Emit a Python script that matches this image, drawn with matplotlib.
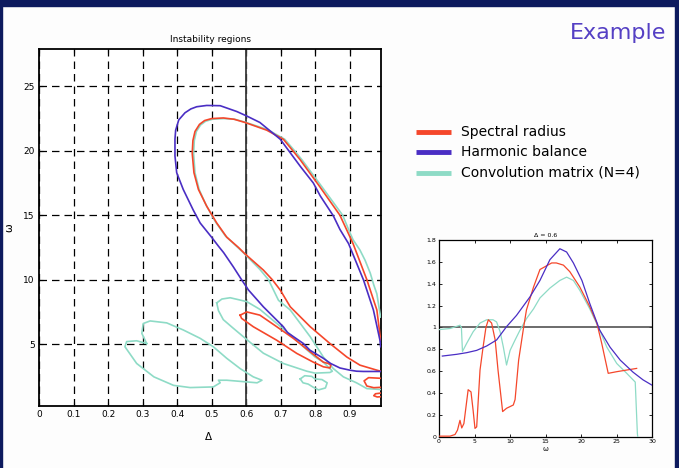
import matplotlib
matplotlib.use("Agg")
import matplotlib.pyplot as plt
from matplotlib.patches import Rectangle
from matplotlib.lines import Line2D

# ---------------- data: main panel contour curves (Delta, omega) ----------------
red_big_x = [0.99, 0.979, 0.93, 0.892, 0.843, 0.786, 0.728, 0.699, 0.676, 0.65, 0.597, 0.578, 0.544, 0.515,
             0.486, 0.462, 0.449, 0.444, 0.446, 0.452, 0.465, 0.48, 0.50, 0.534, 0.565, 0.597, 0.66,
             0.708, 0.737, 0.757, 0.814, 0.872, 0.91, 0.95, 0.979, 0.99]
red_big_y = [2.9, 2.98, 3.37, 4.0, 5.05, 6.35, 7.9, 9.2, 10.0, 10.75, 12.0, 12.5, 13.3, 14.4,
             15.7, 17.0, 18.3, 19.8, 20.8, 21.5, 22.05, 22.35, 22.5, 22.55, 22.45, 22.2, 21.6,
             20.9, 19.96, 19.3, 17.2, 15.0, 12.8, 10.0, 7.65, 5.3]

cyan_big_x = [0.99, 0.95, 0.92, 0.882, 0.853, 0.824, 0.786, 0.728, 0.694, 0.665, 0.64, 0.592, 0.572, 0.54,
              0.511, 0.484, 0.464, 0.452, 0.448, 0.45, 0.456, 0.468, 0.483, 0.503, 0.535, 0.567, 0.6,
              0.662, 0.712, 0.742, 0.762, 0.82, 0.88, 0.897, 0.91, 0.93, 0.945, 0.96, 0.97, 0.979,
              0.985, 0.99]
cyan_big_y = [1.48, 1.55, 2.0, 2.46, 3.1, 4.0, 5.57, 7.65, 8.4, 10.0, 10.8, 12.1, 12.6, 13.4,
              14.5, 15.8, 17.0, 18.3, 19.8, 20.8, 21.5, 22.0, 22.3, 22.45, 22.5, 22.45, 22.2,
              21.65, 20.9, 19.96, 19.3, 17.2, 15.0, 13.9, 13.1, 12.3, 11.5, 10.5, 9.6, 8.9,
              7.9, 7.1]

blue_big_x = [0.99, 0.94, 0.92, 0.901, 0.872, 0.845, 0.824, 0.785, 0.766, 0.72, 0.708, 0.65, 0.607, 0.587,
              0.563, 0.535, 0.52, 0.50, 0.467, 0.447, 0.418, 0.399, 0.394, 0.394, 0.396, 0.405, 0.423,
              0.44, 0.457, 0.486, 0.525, 0.573, 0.602, 0.64, 0.699, 0.757, 0.795, 0.815, 0.853, 0.872,
              0.897, 0.94, 0.969, 0.988, 0.99]
blue_big_y = [2.88, 2.88, 2.9, 2.98, 3.15, 3.5, 3.9, 4.53, 5.05, 5.9, 6.35, 7.9, 9.2, 10.0,
              11.0, 12.1, 12.6, 13.3, 14.4, 15.4, 17.0, 18.3, 19.6, 20.9, 21.6, 22.4, 22.95,
              23.25, 23.42, 23.52, 23.5, 23.05, 22.7, 22.2, 20.9, 18.8, 17.5, 16.5, 14.95, 13.9,
              12.8, 10.0, 7.65, 5.3, 4.8]

red_small_x = [0.583, 0.602, 0.64, 0.689, 0.737, 0.786, 0.824, 0.838, 0.846, 0.843, 0.824, 0.795, 0.747,
               0.689, 0.621, 0.587, 0.583]
red_small_y = [7.25, 7.5, 7.25, 6.35, 5.45, 4.4, 3.6, 3.5, 3.4, 3.15, 3.24, 3.6, 4.28,
               5.3, 6.35, 7.0, 7.25]

cyan_med_x = [0.515, 0.53, 0.554, 0.602, 0.64, 0.689, 0.73, 0.766, 0.80, 0.824, 0.843, 0.85, 0.843,
              0.80, 0.776, 0.708, 0.65, 0.60, 0.56, 0.534, 0.52, 0.515]
cyan_med_y = [8.2, 8.5, 8.6, 8.3, 7.7, 6.6, 5.7, 4.8, 4.0, 3.6, 3.1, 2.9, 2.8,
              2.75, 2.9, 3.5, 4.3, 5.4, 6.3, 6.9, 7.6, 8.2]

cyan_small_x = [0.757, 0.77, 0.79, 0.80, 0.82, 0.835, 0.83, 0.81, 0.795, 0.78, 0.765, 0.757]
cyan_small_y = [2.3, 2.55, 2.5, 2.3, 2.25, 2.0, 1.6, 1.45, 1.65, 1.9, 2.0, 2.3]

cyan_left_x = [0.312, 0.298, 0.302, 0.322, 0.37, 0.418, 0.467, 0.505, 0.544, 0.583, 0.621, 0.646, 0.632,
               0.544, 0.52, 0.525, 0.505, 0.438, 0.39, 0.333, 0.283, 0.249, 0.254, 0.283, 0.312]
cyan_left_y = [5.05, 5.83, 6.6, 6.8, 6.65, 6.1, 5.45, 4.8, 3.9, 3.1, 2.46, 2.2, 2.0,
               2.2, 2.2, 2.0, 1.68, 1.63, 1.8, 2.46, 3.5, 4.8, 5.2, 5.26, 5.05]

red_edge1_x = [0.99, 0.955, 0.942, 0.95, 0.97, 0.99]
red_edge1_y = [2.35, 2.4, 2.15, 1.75, 1.62, 1.65]
red_edge2_x = [0.99, 0.975, 0.97, 0.98, 0.99]
red_edge2_y = [1.2, 1.15, 1.0, 0.9, 0.92]

main_xticks = [0, 0.1, 0.2, 0.3, 0.4, 0.5, 0.6, 0.7, 0.8, 0.9]
main_xticklabels = ["0", "0.1", "0.2", "0.3", "0.4", "0.5", "0.6", "0.7", "0.8", "0.9"]
main_yticks = [5, 10, 15, 20, 25]

# ---------------- data: inset (Delta = 0.6), omega vs value ----------------
hb_w = [0.47, 2.5, 3.9, 5.3, 6.7, 8.1, 9.5, 10.9, 12.8, 14.2, 15.6, 17.0, 17.95, 18.9, 20.1, 21.2,
        22.6, 24.05, 25.5, 27.3, 28.7, 30.0]
hb_v = [0.738, 0.754, 0.769, 0.79, 0.83, 0.885, 1.007, 1.11, 1.28, 1.43, 1.62, 1.72, 1.69, 1.59, 1.43, 1.22,
        0.976, 0.82, 0.70, 0.59, 0.52, 0.47]

sr_w = [0.0, 1.55, 2.25, 2.6, 2.95, 3.2, 3.5, 4.1, 4.5, 4.8, 5.06, 5.3, 5.77, 6.2, 6.6, 6.94, 7.4, 7.9,
        8.3, 8.95, 9.5, 10.45, 10.7, 11.2, 11.9, 12.3, 13.3, 14.2, 15.85, 16.5, 17.5, 18.4, 19.8,
        21.2, 22.2, 22.9, 23.8, 25.0, 26.4, 27.8]
sr_v = [0.005, 0.005, 0.02, 0.06, 0.15, 0.08, 0.12, 0.43, 0.41, 0.24, 0.076, 0.09, 0.61, 0.82, 1.0, 1.07,
        1.04, 0.885, 0.61, 0.23, 0.26, 0.29, 0.34, 0.70, 1.0, 1.16, 1.37, 1.53, 1.59, 1.59, 1.57, 1.51,
        1.37, 1.19, 1.04, 0.85, 0.58, 0.595, 0.61, 0.625]

cm_w = [0.0, 1.55, 2.5, 2.95, 3.15, 3.3, 3.9, 4.8, 5.77, 6.7, 7.6, 8.1, 8.6, 9.05, 9.5, 10.0, 10.7, 11.4,
        12.3, 13.3, 14.2, 15.6, 17.0, 17.95, 18.9, 19.8, 21.2, 22.6, 23.6, 25.0, 26.4, 27.6, 27.9, 27.95]
cm_v = [0.98, 0.99, 1.01, 1.02, 1.0, 0.78, 0.855, 0.96, 1.04, 1.07, 1.07, 1.05, 0.96, 0.82, 0.656, 0.79,
        0.885, 0.976, 1.08, 1.17, 1.27, 1.36, 1.43, 1.46, 1.43, 1.34, 1.17, 0.976, 0.82, 0.67, 0.58,
        0.50, 0.03, 0.0]

inset_xticks = [0, 5, 10, 15, 20, 25, 30]
inset_yticks = [0, 0.2, 0.4, 0.6, 0.8, 1.0, 1.2, 1.4, 1.6, 1.8]
inset_yticklabels = ["0", "0.2", "0.4", "0.6", "0.8", "1", "1.2", "1.4", "1.6", "1.8"]

legend_labels = ["Spectral radius", "Harmonic balance", "Convolution matrix (N=4)"]

# ---------------- style ----------------
RED = "#f5472b"
BLUE = "#4a2ec4"
CYAN = "#8edbc6"
NAVY = "#0d1a5e"

W, H = 679, 468
fig = plt.figure(figsize=(W / 100, H / 100), dpi=100)
fig.patch.set_facecolor("#fdfdfd")

# slide frame
fig.add_artist(Rectangle((0, 1 - 6 / H), 1, 6 / H, transform=fig.transFigure, color=NAVY, zorder=0))
fig.add_artist(Rectangle((0, 0), 2 / W, 1, transform=fig.transFigure, color=NAVY, zorder=0))
fig.add_artist(Rectangle((675 / W, 0), 4 / W, 1, transform=fig.transFigure, color=NAVY, zorder=0))

# ---------------- main axes ----------------
ax = fig.add_axes([39 / W, 62 / H, 342 / W, 357 / H])
ax.set_facecolor("white")
lw = 1.2
ax.plot(red_big_x, red_big_y, color=RED, lw=lw, zorder=3)
ax.plot(cyan_big_x, cyan_big_y, color=CYAN, lw=lw, zorder=2.9)
ax.plot(blue_big_x, blue_big_y, color=BLUE, lw=lw, zorder=3.1)
ax.plot(red_small_x, red_small_y, color=RED, lw=lw, zorder=3)
ax.plot(cyan_med_x, cyan_med_y, color=CYAN, lw=lw, zorder=2.9)
ax.plot(cyan_small_x, cyan_small_y, color=CYAN, lw=lw, zorder=2.9)
ax.plot(cyan_left_x, cyan_left_y, color=CYAN, lw=lw, zorder=2.9)
ax.plot(red_edge1_x, red_edge1_y, color=RED, lw=lw, zorder=3)
ax.plot(red_edge2_x, red_edge2_y, color=RED, lw=lw, zorder=3)
ax.axvline(0.6, color="#3a3a3a", lw=1.3, zorder=2)

ax.set_xlim(0, 0.991)
ax.set_ylim(0.2, 27.9)
ax.set_xticks(main_xticks)
ax.set_xticklabels(main_xticklabels)
ax.set_yticks(main_yticks)
ax.grid(True, color="black", linestyle=(0, (6, 4)), linewidth=0.9)
ax.tick_params(direction="in", top=True, right=True, labelsize=6.5, length=3, width=0.8, pad=3)
for s in ax.spines.values():
    s.set_linewidth(1.3)
ax.set_title("Instability regions", fontsize=6.5, pad=5)
ax.set_xlabel("Δ", fontsize=7.5)
ax.set_ylabel("ω", fontsize=7.5)
ax.xaxis.set_label_coords(0.495, -0.072)
ax.yaxis.set_label_coords(-0.073, 0.5)

# ---------------- inset axes ----------------
ax2 = fig.add_axes([439 / W, 31.3 / H, 213.3 / W, 196.7 / H])
ax2.set_facecolor("white")
ax2.plot(sr_w, sr_v, color=RED, lw=0.9, zorder=3)
ax2.plot(cm_w, cm_v, color=CYAN, lw=0.9, zorder=2.9)
ax2.plot(hb_w, hb_v, color=BLUE, lw=0.9, zorder=3.1)
ax2.axhline(1.0, color="#444444", lw=1.1, zorder=2)
ax2.set_xlim(0, 30)
ax2.set_ylim(0, 1.8)
ax2.set_xticks(inset_xticks)
ax2.set_yticks(inset_yticks)
ax2.set_yticklabels(inset_yticklabels)
ax2.tick_params(direction="in", top=True, right=True, labelsize=4.5, length=2, width=0.6, pad=2)
for s in ax2.spines.values():
    s.set_linewidth(0.9)
ax2.set_title("Δ = 0.6", fontsize=4.5, pad=2.5)
ax2.set_xlabel("ω", fontsize=5, labelpad=1)

# ---------------- legend ----------------
legend_colors = [RED, BLUE, CYAN]
legend_rows = [132, 152, 173]
for lab, col, yy in zip(legend_labels, legend_colors, legend_rows):
    fig.add_artist(Line2D([416 / W, 451 / W], [1 - yy / H, 1 - yy / H], transform=fig.transFigure,
                          color=col, lw=3.5, solid_capstyle="butt"))
    fig.text(461 / W, 1 - yy / H, lab, fontsize=10, va="center", ha="left", color="black")

# ---------------- slide title ----------------
fig.text(666 / W, 1 - 33 / H, "Example", fontsize=16, ha="right", va="center", color="#5540c4")

fig.savefig("out.png", dpi=100, facecolor=fig.get_facecolor())
